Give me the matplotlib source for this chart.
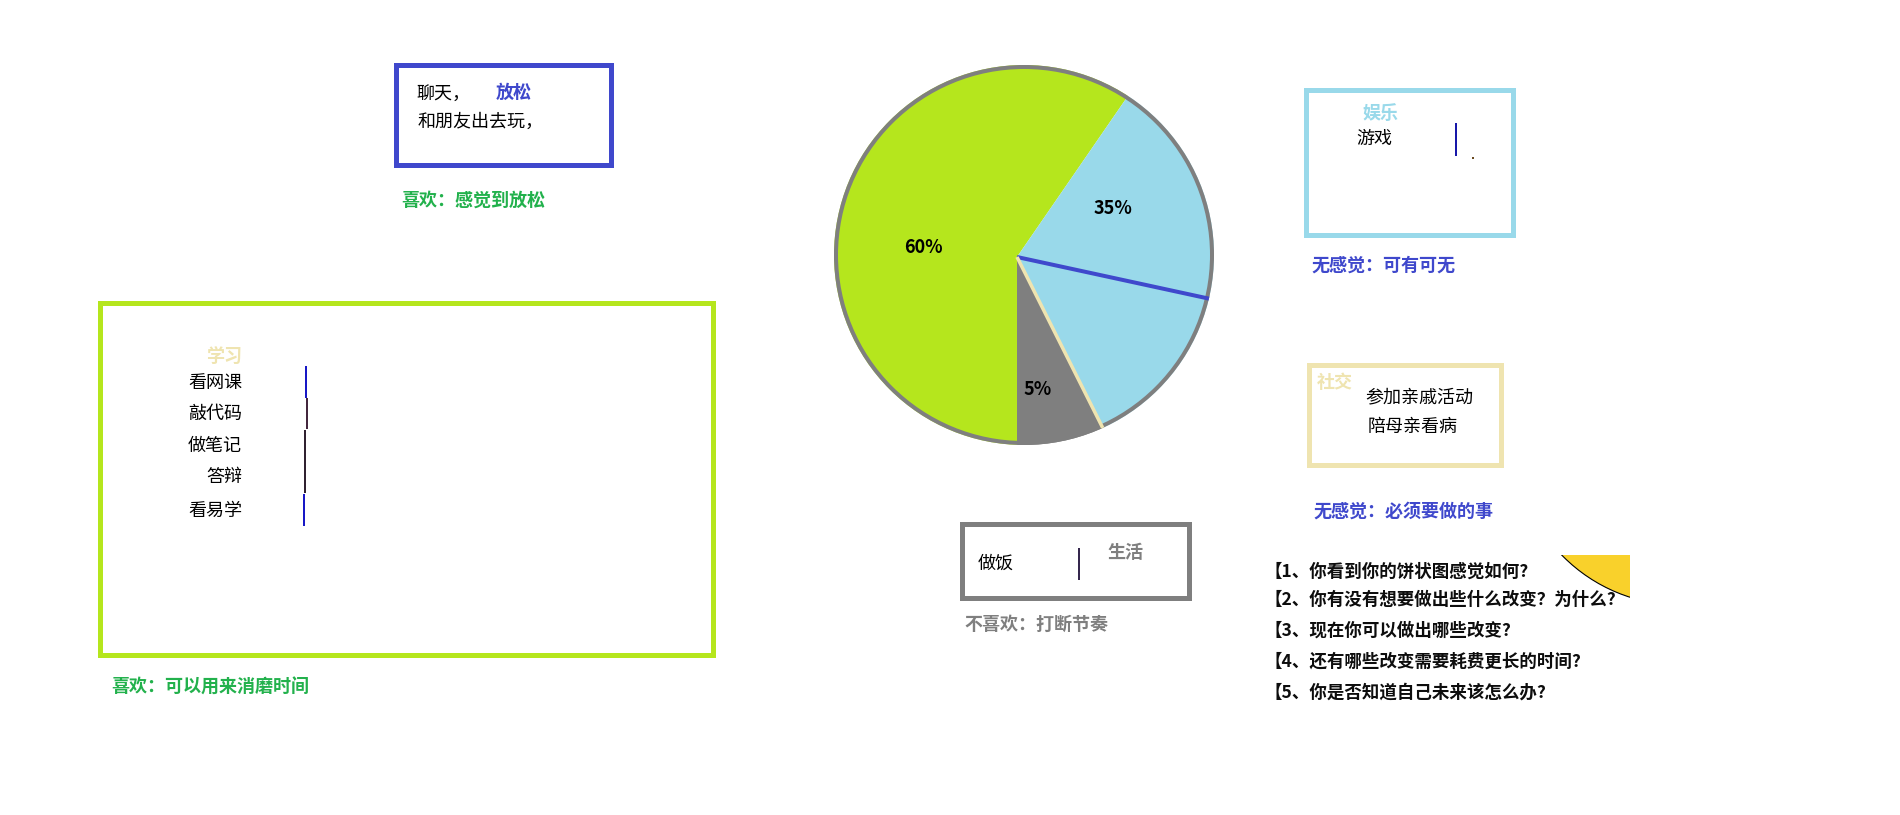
import numpy as np
import matplotlib
matplotlib.use("Agg")
import matplotlib.pyplot as plt
from matplotlib.patches import Rectangle, Circle

plt.rcParams['font.family'] = ['Noto Sans CJK SC', 'DejaVu Sans']

# ---------------- data ----------------
slice_names = ["学习", "娱乐", "社交", "生活"]
slice_values = [59.6, 18.8, 14.2, 7.4]
slice_colors = ["#B5E61D", "#99D9EA", "#99D9EA", "#7F7F7F"]
pct_labels = ["60%", "35%", "5%"]

relax_items = ["聊天，", "和朋友出去玩，"]
study_items = ["看网课", "敲代码", "做笔记", "答辩", "看易学"]
fun_items = ["游戏"]
social_items = ["参加亲戚活动", "陪母亲看病"]
life_items = ["做饭"]
feelings = ["喜欢：感觉到放松", "喜欢：可以用来消磨时间", "无感觉：可有可无",
            "无感觉：必须要做的事", "不喜欢：打断节奏"]
questions = ["【1、你看到你的饼状图感觉如何?",
             "【2、你有没有想要做出些什么改变？为什么?",
             "【3、现在你可以做出哪些改变?",
             "【4、还有哪些改变需要耗费更长的时间?",
             "【5、你是否知道自己未来该怎么办?"]

INDIGO = "#3F48CC"
GREEN_T = "#22B14C"
LIME = "#B5E61D"
LBLUE = "#99D9EA"
BEIGE = "#EFE4B0"
GRAY = "#7F7F7F"

W, H = 1900, 815
fig = plt.figure(figsize=(W / 100, H / 100), dpi=100)
fig.patch.set_facecolor("white")

# full-figure canvas in pixel coordinates
ax = fig.add_axes([0, 0, 1, 1])
ax.set_xlim(0, W)
ax.set_ylim(H, 0)
ax.axis("off")

PX = 72 / 100  # points per pixel


def box(x0, y0, x1, y1, color, lw_px=5):
    ax.add_patch(Rectangle((x0, y0), x1 - x0, y1 - y0, fill=False,
                           ec=color, lw=lw_px * PX, joinstyle="miter"))


def txt(x, y, s, color="black", size=13, bold=False, ha="left"):
    ax.text(x, y, s, color=color, fontsize=size, ha=ha, va="center",
            fontweight="bold" if bold else "normal")


# ---- 放松 box ----
box(395.5, 64.5, 610.5, 164.5, INDIGO, 5)
txt(416, 95, relax_items[0])
txt(496, 92, "放松", INDIGO, 13, True)
txt(418, 122, relax_items[1])
txt(401, 200, feelings[0], GREEN_T, 13, True)

# ---- 学习 box ----
box(99.5, 302.5, 712.5, 654.5, LIME, 5)
txt(242, 356, "学习", BEIGE, 13, True, ha="right")
study_y = [383, 414, 446, 477, 511]
for s, y in zip(study_items, study_y):
    txt(242, y, s, ha="right")
cursor_segs = [(306.3, 366, 398, "#0000C0"), (307.0, 398, 429, "#30102a"),
               (305.3, 430, 493, "#1a0a1a"), (304.3, 494, 526, "#0000C0")]
for x, ya, yb, c in cursor_segs:
    ax.plot([x, x], [ya, yb], color=c, lw=1.3, solid_capstyle="butt")
txt(111, 687, feelings[1], GREEN_T, 13, True)

# ---- 娱乐 box ----
box(1305.5, 89.5, 1512.5, 234.5, LBLUE, 5)
txt(1380, 113, "娱乐", LBLUE, 13, True, ha="center")
txt(1356, 139, fun_items[0])
ax.plot([1456, 1456], [123, 156], color="#0000A0", lw=1.3, solid_capstyle="butt")
ax.plot([1473], [158], marker="s", ms=1.5, color="#6a4a20", mew=0)
txt(1311, 265, feelings[2], INDIGO, 13, True)

# ---- 社交 box ----
box(1308.5, 364.5, 1500.5, 464.5, BEIGE, 5)
txt(1317, 382, "社交", BEIGE, 13, True)
txt(1365, 397, social_items[0])
txt(1368, 427, social_items[1])
txt(1313, 511, feelings[3], INDIGO, 13, True)

# ---- 生活 box ----
box(961.5, 523.5, 1188.5, 597.5, GRAY, 5)
txt(978, 564, life_items[0])
ax.plot([1079, 1079], [548, 580], color="#20103a", lw=1.3, solid_capstyle="butt")
txt(1107, 552, "生活", GRAY, 13, True)
txt(964, 624, feelings[4], GRAY, 13, True)

# ---- yellow corner ----
yc = Circle((1680, 440), 165, fc="#F9D12B", ec="black", lw=0.8)
ax.add_patch(yc)
clip = Rectangle((1540, 555), 90, 60, transform=ax.transData)
yc.set_clip_path(clip)

# ---- questions ----
q_y = [572, 600, 631, 662, 693]
for s, y in zip(questions, q_y):
    txt(1265, y, s, "#0d0d0d", 12.6, True)

# ---------------- pie ----------------
cx, cy, R = 1024, 255, 190
half = 200
pax = fig.add_axes([(cx - half) / W, (H - cy - half) / H, 2 * half / W, 2 * half / H])
lim = half / R

# slice vertex sits a little left of / below the circle centre
vx, vy = -7 / R, -2 / R
start = -90
wedges, _ = pax.pie(slice_values, colors=slice_colors, startangle=start,
                    counterclock=False, radius=1.06, center=(vx, vy),
                    wedgeprops=dict(linewidth=0), frame=False)
pax.set_xlim(-lim, lim)
pax.set_ylim(-lim, lim)
pax.set_aspect("equal")
pax.axis("off")
disc = Circle((0, 0), 1, transform=pax.transData)
for w in wedges:
    w.set_clip_on(True)
    w.set_clip_path(disc)

total = sum(slice_values)
cum = np.cumsum(slice_values)
b_blue = np.deg2rad(start - 360 * cum[1] / total)
b_beige = np.deg2rad(start - 360 * cum[2] / total)
for ang, col, lwp in [(b_blue, INDIGO, 4), (b_beige, BEIGE, 3.5)]:
    ln, = pax.plot([vx, vx + 1.1 * np.cos(ang)], [vy, vy + 1.1 * np.sin(ang)],
                   color=col, lw=lwp * PX, solid_capstyle="butt")
    ln.set_clip_on(True)
    ln.set_clip_path(disc)
pax.add_patch(Circle((0, 0), 1 - 2 / R, fill=False, ec=GRAY, lw=4 * PX))

label_pos = [(0.53, 176), (0.53, 27.3), (0.71, -84)]
for s, (r, a) in zip(pct_labels, label_pos):
    t = np.deg2rad(a)
    pax.text(r * np.cos(t), r * np.sin(t), s, ha="center", va="center",
             fontsize=13, fontweight="bold", color="black")

fig.savefig("out.png", dpi=100, facecolor="white")
